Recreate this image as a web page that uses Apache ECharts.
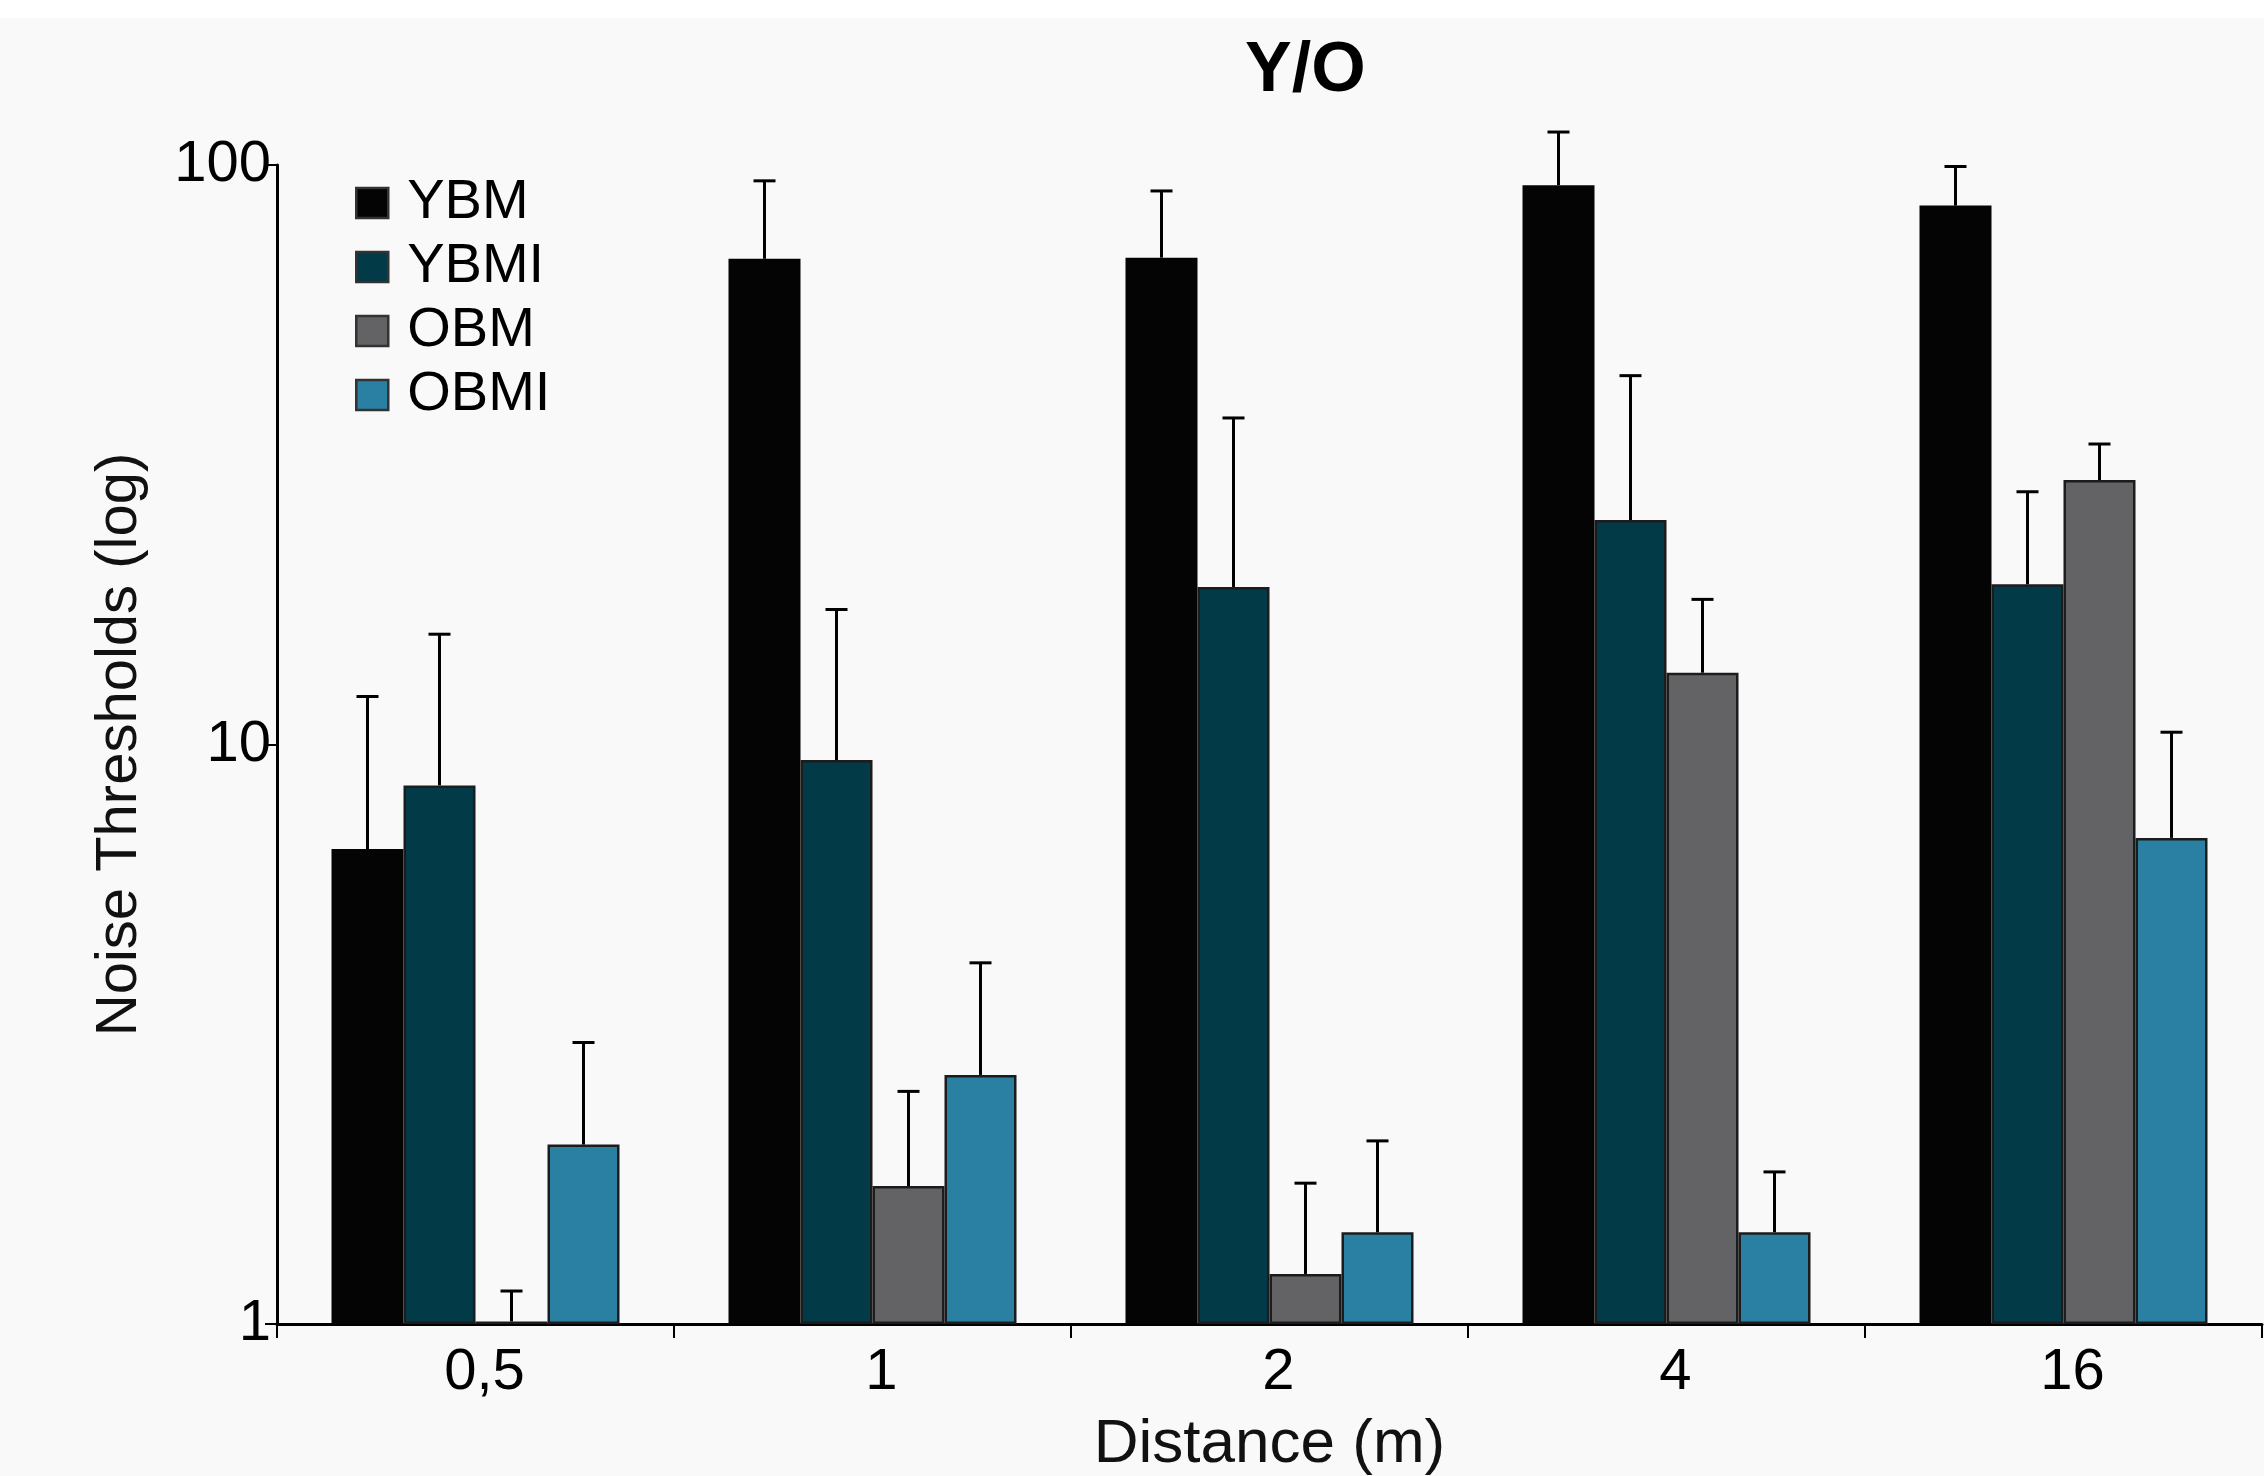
<!DOCTYPE html>
<html>
<head>
<meta charset="utf-8">
<title>Y/O</title>
<script src="https://cdn.jsdelivr.net/npm/echarts@6/dist/echarts.min.js"></script>
<style>
    html, body { margin: 0; padding: 0; background: #faf9fa; }
    #chart { width: 2264px; height: 1476px; }
</style>
</head>
<body>
<div id="chart"></div>
<script>
// Noise thresholds per distance, bar height and upper error bar end
const categories = ['0,5', '1', '2', '4', '16'];
const seriesNames = ['YBM', 'YBMI', 'OBM', 'OBMI'];
const seriesColors = ['#030403', '#023a47', '#636365', '#2a80a3'];

const ybm = [6.6, 68.9, 69.2, 92.3, 85.1];
const ybmi = [8.5, 9.4, 18.7, 24.4, 18.9];
const obm = [1.01, 1.73, 1.22, 13.3, 28.6];
const obmi = [2.04, 2.69, 1.44, 1.44, 6.9];

const ybmErr = [12.1, 93.9, 90.2, 114, 99.4];
const ybmiErr = [15.5, 17.1, 36.6, 43.3, 27.3];
const obmErr = [1.14, 2.52, 1.75, 17.8, 33.0];
const obmiErr = [3.06, 4.2, 2.07, 1.83, 10.5];

const yTicks = [1, 10, 100];

const values = [ybm, ybmi, obm, obmi];
const errors = [ybmErr, ybmiErr, obmErr, obmiErr];

const FONT = "'Liberation Sans', Arial, sans-serif";
const BAR_W = 72;

const chart = echarts.init(document.getElementById('chart'));

const barSeries = seriesNames.map((name, i) => ({
    name: name,
    type: 'bar',
    barWidth: BAR_W,
    barGap: '0%',
    data: values[i],
    itemStyle: {
        color: seriesColors[i],
        borderColor: '#1c1c1c',
        borderWidth: i === 0 ? 0 : 2.5
    },
    z: 2
}));

// error bar rows: [category index, series index, value, upper]
const errData = [];
values.forEach((vals, s) => {
    vals.forEach((v, c) => errData.push([c, s, v, errors[s][c]]));
});

const errSeries = {
    type: 'custom',
    clip: false,
    z: 3,
    data: errData,
    renderItem: (params, api) => {
        const c = api.value(0);
        const s = api.value(1);
        const base = api.coord([c, api.value(2)]);
        const top = api.coord([c, api.value(3)]);
        const x = base[0] + (s - 1.5) * BAR_W;
        const style = { stroke: '#000', lineWidth: 3 };
        return {
            type: 'group',
            children: [
                { type: 'line', shape: { x1: x, y1: base[1], x2: x, y2: top[1] }, style: style },
                { type: 'line', shape: { x1: x - 11, y1: top[1], x2: x + 11, y2: top[1] }, style: style }
            ]
        };
    }
};

const option = {
    backgroundColor: '#faf9fa',
    animation: false,
    textStyle: { fontFamily: FONT },
    graphic: [
        { type: 'rect', left: 0, top: 0, shape: { width: 2264, height: 18 }, style: { fill: '#ffffff' }, z: -1 }
    ],
    title: {
        text: 'Y/O',
        left: 1240,
        top: 32,
        textStyle: { fontFamily: FONT, fontSize: 70, fontWeight: 'bold', color: '#000' }
    },
    legend: {
        data: seriesNames,
        orient: 'vertical',
        left: 350,
        top: 170,
        itemWidth: 32,
        itemHeight: 30,
        itemGap: 8,
        icon: 'rect',
        itemStyle: { borderColor: '#333', borderWidth: 2.5 },
        textStyle: { fontFamily: FONT, fontSize: 56, lineHeight: 56, color: '#000', padding: [0, 0, 0, 14] }
    },
    grid: { left: 277, right: 2, top: 165, bottom: 152, containLabel: false, outerBoundsMode: 'none' },
    xAxis: {
        type: 'category',
        data: categories,
        name: 'Distance (m)',
        nameLocation: 'middle',
        nameGap: 90,
        nameTextStyle: { fontFamily: FONT, fontSize: 62, color: '#111' },
        axisLine: { lineStyle: { color: '#000', width: 3 } },
        axisTick: { show: true, length: 14, lineStyle: { color: '#000', width: 2 } },
        axisLabel: { fontFamily: FONT, fontSize: 58, color: '#000', margin: 20, padding: [0, 0, 0, 18] }
    },
    yAxis: {
        type: 'log',
        logBase: 10,
        min: yTicks[0],
        max: yTicks[yTicks.length - 1],
        name: 'Noise Thresholds (log)',
        nameLocation: 'middle',
        nameGap: 128,
        nameTextStyle: { fontFamily: FONT, fontSize: 58, color: '#111' },
        axisLine: { show: true, lineStyle: { color: '#000', width: 3 } },
        axisTick: { show: true, length: 12, lineStyle: { color: '#000', width: 2 } },
        minorTick: { show: false },
        splitLine: { show: false },
        axisLabel: { fontFamily: FONT, fontSize: 58, color: '#000', margin: 6 }
    },
    series: [...barSeries, errSeries]
};

chart.setOption(option);
</script>
</body>
</html>
